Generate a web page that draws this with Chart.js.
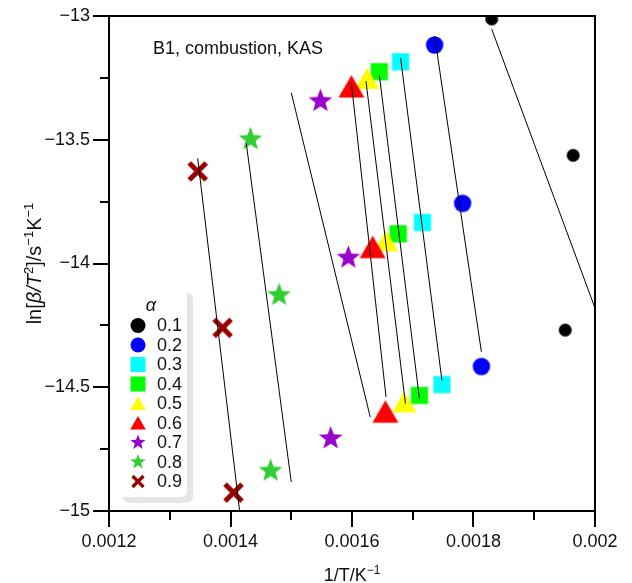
<!DOCTYPE html>
<html>
<head>
<meta charset="utf-8">
<script src="https://cdn.jsdelivr.net/npm/chart.js@4.4.1/dist/chart.umd.min.js"></script>
<style>
  html, body { margin: 0; padding: 0; background: #fff; }
  #wrap { width: 632px; height: 583px; }
</style>
</head>
<body>
<div id="wrap"><canvas id="kasChart" width="632" height="583"></canvas></div>
<script>
// conversion degrees
const alphas = ['0.1', '0.2', '0.3', '0.4', '0.5', '0.6', '0.7', '0.8', '0.9'];

// 1/T (K^-1) at the three heating rates, one row per alpha
const invT = [
    [0.001830, 0.001964, 0.001951],
    [0.001736, 0.001782, 0.001813],
    [0.001680, 0.001716, 0.001748],
    [0.001645, 0.001676, 0.001711],
    [0.001625, 0.001656, 0.001686],
    [0.001599, 0.001634, 0.001655],
    [0.001548, 0.001594, 0.001565],
    [0.001433, 0.001480, 0.001466],
    [0.001346, 0.001387, 0.001405]
];

// ln(beta/T^2)
const lnBT = [
    [-13.012, -13.563, -14.269],
    [-13.117, -13.757, -14.416],
    [-13.185, -13.834, -14.489],
    [-13.225, -13.880, -14.533],
    [-13.266, -13.922, -14.573],
    [-13.299, -13.948, -14.613],
    [-13.344, -13.977, -14.707],
    [-13.498, -14.128, -14.838],
    [-13.628, -14.260, -14.926]
];

// KAS fit lines, start and end
const fitX = [
    [0.001830, 0.002000],
    [0.001736, 0.001813],
    [0.001680, 0.001748],
    [0.001645, 0.001711],
    [0.001623, 0.001688],
    [0.001599, 0.001656],
    [0.001500, 0.001630],
    [0.001426, 0.001500],
    [0.001346, 0.001415]
];
const fitY = [
    [-13.053, -14.180],
    [-13.081, -14.357],
    [-13.170, -14.472],
    [-13.239, -14.546],
    [-13.263, -14.566],
    [-13.271, -14.539],
    [-13.310, -14.620],
    [-13.515, -14.883],
    [-13.575, -15.000]
];

const minorX = [0.0013, 0.0015, 0.0017, 0.0019];
const minorY = [-13.25, -13.75, -14.25, -14.75];

// marker look per series
const colors = ['#000000', '#0000ff', '#00ffff', '#00ff00', '#ffff00', '#ff0000', '#9900cc', '#33cc33', '#990000'];
const shapes = ['circle', 'circle', 'square', 'square', 'triangle', 'triangle', 'star', 'star', 'cross'];
const sizes = [6.5, 8.7, 8.6, 8.6, 14, 15, 12.5, 12.5, 8.5];
const legendSizes = [7.5, 7.5, 7.5, 7.5, 9, 9, 8, 8, 5.5];

const FONT = '"Liberation Sans", Arial, Helvetica, sans-serif';

function drawMarker(ctx, shape, color, x, y, s) {
    ctx.save();
    ctx.fillStyle = color;
    ctx.strokeStyle = color;
    ctx.beginPath();
    if (shape === 'circle') {
        ctx.arc(x, y, s, 0, Math.PI * 2);
        ctx.fill();
    } else if (shape === 'square') {
        ctx.rect(x - s, y - s, 2 * s, 2 * s);
        ctx.fill();
    } else if (shape === 'triangle') {
        ctx.moveTo(x, y - s);
        ctx.lineTo(x + s * 0.866, y + s / 2);
        ctx.lineTo(x - s * 0.866, y + s / 2);
        ctx.closePath();
        ctx.fill();
    } else if (shape === 'star') {
        for (let k = 0; k < 10; k++) {
            const r = k % 2 === 0 ? s : s * 0.42;
            const a = -Math.PI / 2 + k * Math.PI / 5;
            const px = x + r * Math.cos(a), py = y + r * Math.sin(a);
            if (k === 0) ctx.moveTo(px, py); else ctx.lineTo(px, py);
        }
        ctx.closePath();
        ctx.fill();
    } else if (shape === 'cross') {
        ctx.lineWidth = s * 0.6;
        ctx.moveTo(x - s, y - s); ctx.lineTo(x + s, y + s);
        ctx.moveTo(x + s, y - s); ctx.lineTo(x - s, y + s);
        ctx.stroke();
    }
    ctx.restore();
}

function markerImage(shape, color, s) {
    const c = document.createElement('canvas');
    const n = Math.ceil(2 * s + 8);
    c.width = n; c.height = n;
    drawMarker(c.getContext('2d'), shape, color, n / 2, n / 2, s);
    return c;
}

// text with italic / superscript parts
function drawRich(ctx, segs, x, y, size, rotate) {
    const supSize = Math.round(size * 0.65);
    const fontFor = s => (s.i ? 'italic ' : '') + (s.sup ? supSize : size) + 'px ' + FONT;
    let w = 0;
    segs.forEach(s => { ctx.font = fontFor(s); w += ctx.measureText(s.t).width; });
    ctx.save();
    ctx.translate(x, y);
    if (rotate) ctx.rotate(-Math.PI / 2);
    ctx.fillStyle = '#111';
    ctx.textAlign = 'left';
    ctx.textBaseline = 'alphabetic';
    let cx = -w / 2;
    segs.forEach(s => {
        ctx.font = fontFor(s);
        ctx.fillText(s.t, cx, s.sup ? -size * 0.4 : 0);
        cx += ctx.measureText(s.t).width;
    });
    ctx.restore();
}

function roundRect(ctx, x, y, w, h, r) {
    ctx.beginPath();
    ctx.moveTo(x + r, y);
    ctx.arcTo(x + w, y, x + w, y + h, r);
    ctx.arcTo(x + w, y + h, x, y + h, r);
    ctx.arcTo(x, y + h, x, y, r);
    ctx.arcTo(x, y, x + w, y, r);
    ctx.closePath();
}

const decorations = {
    id: 'decorations',
    afterDatasetsDraw(chart) {
        const { ctx, chartArea: a, scales: { x, y } } = chart;
        ctx.save();

        // frame
        ctx.strokeStyle = '#000';
        ctx.lineWidth = 2;
        ctx.strokeRect(a.left, a.top, a.right - a.left, a.bottom - a.top);

        // minor ticks
        ctx.beginPath();
        minorX.forEach(v => {
            const px = Math.round(x.getPixelForValue(v));
            ctx.moveTo(px, a.bottom); ctx.lineTo(px, a.bottom + 9);
        });
        minorY.forEach(v => {
            const py = Math.round(y.getPixelForValue(v));
            ctx.moveTo(a.left, py); ctx.lineTo(a.left - 9, py);
        });
        ctx.stroke();

        // legend box with shadow
        ctx.fillStyle = '#e6e6e6';
        roundRect(ctx, 123, 292, 70, 211, 7);
        ctx.fill();
        ctx.fillStyle = '#ffffff';
        roundRect(ctx, 117, 286, 70, 211, 7);
        ctx.fill();

        ctx.fillStyle = '#111';
        ctx.font = 'italic 18px ' + FONT;
        ctx.textAlign = 'center';
        ctx.textBaseline = 'middle';
        ctx.fillText('α', 151, 306);

        ctx.font = '18px ' + FONT;
        ctx.textAlign = 'left';
        alphas.forEach((lab, i) => {
            const ry = 325.5 + i * 19.5;
            drawMarker(ctx, shapes[i], colors[i], 138, ry + (shapes[i] === 'triangle' ? 2 : 0), legendSizes[i]);
            ctx.fillStyle = '#111';
            ctx.fillText(lab, 157, ry + 1);
        });

        // annotation
        ctx.font = '18px ' + FONT;
        ctx.fillText('B1, combustion, KAS', 153, 49);

        // axis titles
        drawRich(ctx, [{ t: '1/T/K' }, { t: '−1', sup: true }], (a.left + a.right) / 2, 581, 18, false);
        drawRich(ctx, [
            { t: 'ln[' }, { t: 'β/T', i: true }, { t: '2', sup: true }, { t: ']/s' },
            { t: '−1', sup: true }, { t: 'K' }, { t: '−1', sup: true }
        ], 41, (a.top + a.bottom) / 2, 20, true);

        ctx.restore();
    }
};

const datasets = [];
alphas.forEach((lab, i) => {
    datasets.push({
        label: lab,
        type: 'scatter',
        data: invT[i].map((v, k) => ({ x: v, y: lnBT[i][k] })),
        pointStyle: markerImage(shapes[i], colors[i], sizes[i]),
        pointRadius: sizes[i],
        order: 10 - i
    });
    datasets.push({
        label: 'fit ' + lab,
        type: 'line',
        data: fitX[i].map((v, k) => ({ x: v, y: fitY[i][k] })),
        borderColor: '#000',
        borderWidth: 1,
        pointRadius: 0,
        fill: false,
        order: 0
    });
});

const tickFont = { family: FONT, size: 18 };

new Chart(document.getElementById('kasChart').getContext('2d'), {
    type: 'scatter',
    data: { datasets: datasets },
    options: {
        responsive: false,
        animation: false,
        layout: { padding: { top: 16, right: 37, left: 0, bottom: 0 } },
        plugins: {
            legend: { display: false },
            tooltip: { enabled: false }
        },
        scales: {
            x: {
                type: 'linear',
                min: 0.0012,
                max: 0.002,
                afterFit: scale => { scale.height = 72; },
                ticks: {
                    stepSize: 0.0002,
                    maxRotation: 0,
                    padding: 4,
                    color: '#111',
                    font: tickFont,
                    callback: v => String(parseFloat(Number(v).toFixed(4)))
                },
                grid: { drawOnChartArea: false, drawTicks: true, tickLength: 16, color: '#000', lineWidth: 2 },
                border: { display: true, color: '#000', width: 2 }
            },
            y: {
                min: -15,
                max: -13,
                afterFit: scale => { scale.width = 109; },
                ticks: {
                    stepSize: 0.5,
                    padding: 3,
                    color: '#111',
                    font: tickFont,
                    callback: v => String(v).replace('-', '−')
                },
                grid: { drawOnChartArea: false, drawTicks: true, tickLength: 16, color: '#000', lineWidth: 2 },
                border: { display: true, color: '#000', width: 2 }
            }
        }
    },
    plugins: [decorations]
});
</script>
</body>
</html>
